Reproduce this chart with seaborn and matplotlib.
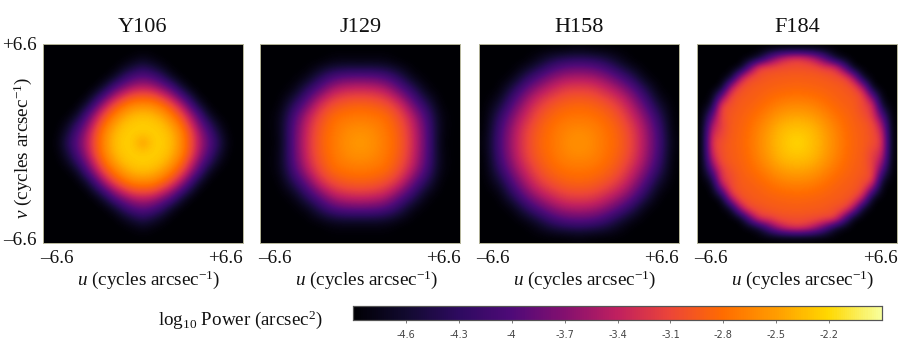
import numpy as np
import matplotlib
matplotlib.use("Agg")
import matplotlib.pyplot as plt
import seaborn as sns

# --- Data: power, in units of -0.01 dex (255 means -2.55) ---
y106 = [
    [490]*21,
    [490]*9 + [485, 478, 485] + [490]*9,
    [490]*8 + [475, 455, 440, 455, 475] + [490]*8,
    [490]*7 + [470, 430, 405, 395, 405, 430, 470] + [490]*7,
    [490]*6 + [460, 410, 380, 358, 350, 358, 380, 410, 460] + [490]*6,
    [490]*5 + [452, 400, 355, 325, 303, 300, 303, 325, 355, 400, 452] + [490]*5,
    [490]*4 + [460, 400, 345, 305, 278, 263, 260, 263, 278, 305, 345, 400, 460] + [490]*4,
    [490]*3 + [470, 410, 355, 305, 272, 250, 238, 235, 238, 250, 272, 305, 355, 410, 470] + [490]*3,
    [490]*2 + [475, 430, 380, 325, 278, 250, 233, 227, 225, 227, 233, 250, 278, 325, 380, 430, 475] + [490]*2,
    [490, 488, 455, 405, 358, 303, 263, 238, 227, 226, 228, 226, 227, 238, 263, 303, 358, 405, 455, 488, 490],
    [490, 485, 440, 395, 350, 300, 260, 235, 225, 228, 255, 228, 225, 235, 260, 300, 350, 395, 440, 485, 490],
    [490, 488, 455, 405, 358, 303, 263, 238, 227, 226, 228, 226, 227, 238, 263, 303, 358, 405, 455, 488, 490],
    [490]*2 + [475, 430, 380, 325, 278, 250, 233, 227, 225, 227, 233, 250, 278, 325, 380, 430, 475] + [490]*2,
    [490]*3 + [470, 410, 355, 305, 272, 250, 238, 235, 238, 250, 272, 305, 355, 410, 470] + [490]*3,
    [490]*4 + [460, 400, 345, 305, 278, 263, 260, 263, 278, 305, 345, 400, 460] + [490]*4,
    [490]*5 + [452, 400, 355, 325, 303, 300, 303, 325, 355, 400, 452] + [490]*5,
    [490]*6 + [460, 410, 380, 358, 350, 358, 380, 410, 460] + [490]*6,
    [490]*7 + [470, 430, 405, 395, 405, 430, 470] + [490]*7,
    [490]*8 + [475, 455, 440, 455, 475] + [490]*8,
    [490]*9 + [485, 478, 485] + [490]*9,
    [490]*21,
]
j129 = [
    [490]*15,
    [490]*4 + [490, 480, 478, 480, 478, 480, 490] + [490]*4,
    [490]*3 + [485, 440, 405, 392, 390, 392, 405, 440, 485] + [490]*3,
    [490]*2 + [485, 430, 385, 345, 333, 330, 333, 345, 385, 430, 485] + [490]*2,
    [490]*2 + [440, 385, 330, 305, 293, 290, 293, 305, 330, 385, 440] + [490]*2,
    [490, 480, 405, 345, 305, 280, 275, 272, 275, 280, 305, 345, 405, 480, 490],
    [490, 480, 392, 333, 293, 275, 262, 258, 262, 275, 293, 333, 392, 480, 490],
    [490, 485, 390, 330, 290, 272, 258, 250, 258, 272, 290, 330, 390, 485, 490],
    [490, 480, 392, 333, 293, 275, 262, 258, 262, 275, 293, 333, 392, 480, 490],
    [490, 480, 405, 345, 305, 280, 275, 272, 275, 280, 305, 345, 405, 480, 490],
    [490]*2 + [440, 385, 330, 305, 293, 290, 293, 305, 330, 385, 440] + [490]*2,
    [490]*2 + [485, 430, 385, 345, 333, 330, 333, 345, 385, 430, 485] + [490]*2,
    [490]*3 + [485, 440, 405, 392, 390, 392, 405, 440, 485] + [490]*3,
    [490]*4 + [490, 480, 478, 480, 478, 480, 490] + [490]*4,
    [490]*15,
]
h158 = [
    [490]*5 + [490, 490, 485, 490, 490] + [490]*5,
    [490]*3 + [490, 465, 430, 410, 405, 410, 430, 465, 490] + [490]*3,
    [490]*2 + [488, 440, 400, 370, 355, 352, 355, 370, 400, 440, 488] + [490]*2,
    [490, 490, 440, 385, 352, 332, 315, 312, 315, 332, 352, 385, 440, 490, 490],
    [490, 465, 400, 352, 320, 300, 290, 287, 290, 300, 320, 352, 400, 465, 490],
    [490, 430, 370, 332, 300, 285, 277, 275, 277, 285, 300, 332, 370, 430, 490],
    [490, 410, 355, 315, 290, 277, 265, 262, 265, 277, 290, 315, 355, 410, 490],
    [485, 405, 352, 312, 287, 275, 262, 255, 262, 275, 287, 312, 352, 405, 485],
    [490, 410, 355, 315, 290, 277, 265, 262, 265, 277, 290, 315, 355, 410, 490],
    [490, 430, 370, 332, 300, 285, 277, 275, 277, 285, 300, 332, 370, 430, 490],
    [490, 465, 400, 352, 320, 300, 290, 287, 290, 300, 320, 352, 400, 465, 490],
    [490, 490, 440, 385, 352, 332, 315, 312, 315, 332, 352, 385, 440, 490, 490],
    [490]*2 + [488, 440, 400, 370, 355, 352, 355, 370, 400, 440, 488] + [490]*2,
    [490]*3 + [490, 465, 430, 410, 405, 410, 430, 465, 490] + [490]*3,
    [490]*5 + [490, 490, 485, 490, 490] + [490]*5,
]
f184 = [
    [490]*21,
    [490]*6 + [470, 407, 358, 330, 320, 330, 358, 407, 470] + [490]*6,
    [490]*5 + [396, 312, 310, 306, 304, 303, 304, 306, 320, 322, 396] + [490]*5,
    [490]*3 + [481, 358, 310, 303, 296, 294, 293, 292, 293, 294, 296, 303, 310, 358, 481] + [490]*3,
    [490]*3 + [358, 308, 296, 293, 291, 289, 288, 287, 288, 289, 291, 293, 296, 308, 358] + [490]*3,
    [490]*2 + [396, 310, 296, 293, 290, 285, 281, 278, 277, 278, 281, 285, 290, 293, 296, 310, 396] + [490]*2,
    [490, 470, 312, 303, 293, 290, 284, 277, 269, 264, 263, 264, 269, 277, 284, 290, 293, 310, 324, 470, 490],
    [490, 407, 310, 296, 291, 285, 277, 266, 256, 250, 248, 250, 256, 266, 277, 285, 291, 303, 322, 407, 490],
    [490, 358, 318, 294, 289, 281, 269, 256, 244, 238, 236, 238, 244, 256, 269, 281, 289, 294, 306, 358, 490],
    [490, 330, 316, 293, 288, 278, 264, 250, 238, 230, 228, 230, 238, 250, 264, 278, 288, 293, 304, 330, 490],
    [490, 320, 303, 292, 287, 277, 263, 248, 236, 228, 220, 228, 236, 248, 263, 277, 287, 292, 303, 320, 490],
    [490, 330, 304, 293, 288, 278, 264, 250, 238, 230, 228, 230, 238, 250, 264, 278, 288, 293, 316, 330, 490],
    [490, 358, 306, 294, 289, 281, 269, 256, 244, 238, 236, 238, 244, 256, 269, 281, 289, 294, 318, 358, 490],
    [490, 407, 322, 303, 291, 285, 277, 266, 256, 250, 248, 250, 256, 266, 277, 285, 291, 296, 310, 407, 490],
    [490, 470, 324, 310, 293, 290, 284, 277, 269, 264, 263, 264, 269, 277, 284, 290, 293, 303, 312, 470, 490],
    [490]*2 + [396, 310, 296, 293, 290, 285, 281, 278, 277, 278, 281, 285, 290, 293, 296, 310, 396] + [490]*2,
    [490]*3 + [358, 308, 296, 293, 291, 289, 288, 287, 288, 289, 291, 293, 296, 308, 358] + [490]*3,
    [490]*3 + [481, 358, 310, 303, 296, 294, 293, 292, 293, 294, 296, 303, 310, 358, 481] + [490]*3,
    [490]*5 + [396, 322, 320, 306, 304, 303, 304, 306, 310, 312, 396] + [490]*5,
    [490]*6 + [470, 407, 358, 330, 320, 330, 358, 407, 470] + [490]*6,
    [490]*21,
]
bands = ["Y106", "J129", "H158", "F184"]
grids = [y106, j129, h158, f184]
cbar_ticks = [-4.6, -4.3, -4.0, -3.7, -3.4, -3.1, -2.8, -2.5, -2.2]
cbar_labels = ["-4.6", "-4.3", "-4", "-3.7", "-3.4", "-3.1", "-2.8", "-2.5", "-2.2"]
colours = ["#000004", "#120a30", "#2e0a60", "#4f0a78", "#84106f", "#c0205f",
           "#ec4538", "#ff6c00", "#ff9c00", "#ffd800", "#f8ff9c"]

sns.set_theme(style="white")
plt.rcParams["font.family"] = ["Liberation Serif", "DejaVu Serif"]
plt.rcParams["mathtext.fontset"] = "custom"
plt.rcParams["mathtext.rm"] = "Liberation Serif"
plt.rcParams["mathtext.it"] = "Liberation Serif:italic"

W, H = 900, 346
fig = plt.figure(figsize=(W / 100, H / 100), dpi=100)
cmap = sns.blend_palette(colours, n_colors=256, as_cmap=True)
vmin, vmax = -4.9, -1.9

# pixel box of each panel and the colour bar
lefts = [42.7, 260.4, 478.7, 697.0]
cax = fig.add_axes([353 / W, 1 - 320 / H, 529 / W, 14 / H])
axis_text = r"(cycles arcsec$^{-1}$)"

for i, (band, grid) in enumerate(zip(bands, grids)):
    ax = fig.add_axes([lefts[i] / W, 1 - 243.4 / H, 200 / W, 199.7 / H])
    data = np.array(grid) / -100
    n = data.shape[0]
    sns.heatmap(data, ax=ax, cmap=cmap, vmin=vmin, vmax=vmax, xticklabels=False, yticklabels=False,
                cbar=i == 0, cbar_ax=cax if i == 0 else None,
                cbar_kws={"orientation": "horizontal", "ticks": cbar_ticks})
    # smooth the coarse cells, the image has to sit above the heatmap mesh
    ax.imshow(data, cmap=cmap, vmin=vmin, vmax=vmax, extent=(0, n, n, 0), interpolation="bicubic", zorder=2)
    ax.set_aspect("auto")
    ax.set_xlim(0, n)
    ax.set_ylim(n, 0)
    for s in ax.spines.values():
        s.set_visible(True)
        s.set_color("#b5b59a")
        s.set_linewidth(0.7)

    ax.set_title(band, fontsize=16, pad=8.5, color="#111111")
    ax.text(-0.012, -0.098, "\u20136.6", transform=ax.transAxes, fontsize=13.8, ha="left", va="baseline", color="#111111")
    ax.text(1.003, -0.098, "+6.6", transform=ax.transAxes, fontsize=13.8, ha="right", va="baseline", color="#111111")
    ax.text(0.53, -0.208, r"$\mathit{u}$ " + axis_text, transform=ax.transAxes, fontsize=13.8,
            ha="center", va="baseline", color="#111111")
    if i == 0:
        ax.text(-0.03, 0.97, "+6.6", transform=ax.transAxes, fontsize=13.8, ha="right", va="baseline", color="#111111")
        ax.text(-0.03, -0.0085, "\u20136.6", transform=ax.transAxes, fontsize=13.8, ha="right", va="baseline", color="#111111")
        ax.text(-0.098, 0.48, r"$\mathit{v}$ " + axis_text, transform=ax.transAxes, fontsize=13.8,
                rotation=90, ha="center", va="center", color="#111111")

cax.set_xticks(cbar_ticks)
cax.set_xticklabels(cbar_labels, family="DejaVu Sans", fontsize=7, color="#444444")
cax.tick_params(axis="x", length=2, width=0.5, pad=5, color="#444444", bottom=True)
for s in cax.spines.values():
    s.set_visible(True)
    s.set_color("#555555")
    s.set_linewidth(0.8)

fig.text(158 / W, 1 - 325 / H, r"log$_{10}$ Power (arcsec$^{2}$)", fontsize=13.7, color="#111111")

fig.savefig("out.png", dpi=100)
